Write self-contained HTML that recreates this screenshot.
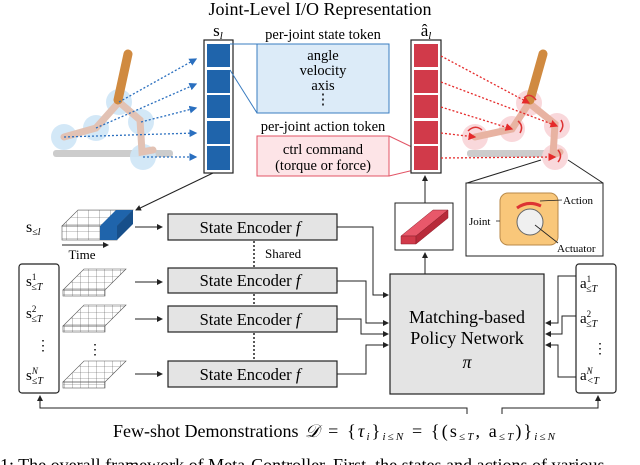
<!DOCTYPE html>
<html><head><meta charset="utf-8"><style>
body{margin:0;background:#fff}
svg{display:block;font-family:"Liberation Serif",serif}
</style></head><body>
<svg width="640" height="465" viewBox="0 0 640 465" xmlns="http://www.w3.org/2000/svg">
<defs>
<marker id="ak" markerWidth="6" markerHeight="6" refX="5" refY="3" orient="auto"><path d="M0,0 L6,3 L0,6z" fill="#222"/></marker>
<marker id="ab" markerWidth="6" markerHeight="6" refX="5" refY="3" orient="auto"><path d="M0,0 L6,3 L0,6z" fill="#2a6fbf"/></marker>
<marker id="ar" markerWidth="6" markerHeight="6" refX="5" refY="3" orient="auto"><path d="M0,0 L6,3 L0,6z" fill="#e52a2a"/></marker>
<pattern id="grid" width="8" height="6" patternUnits="userSpaceOnUse"><path d="M0,0H8M0,0V6" stroke="#555" stroke-width="0.6" fill="none"/></pattern>
<pattern id="grid2" width="11" height="7" patternUnits="userSpaceOnUse"><path d="M0,0H11M0,0V7" stroke="#555" stroke-width="0.6" fill="none"/></pattern>
</defs>
<text x="320" y="15" font-size="18" text-anchor="middle">Joint-Level I/O Representation</text>

<!-- left robot -->
<rect x="53" y="150" width="120" height="7" fill="#ccc" rx="3"/>
<g fill="#cfe6f7" opacity="0.9"><circle cx="64" cy="137" r="13"/><circle cx="96" cy="128" r="13"/><circle cx="119" cy="102" r="13"/><circle cx="141" cy="122" r="13"/><circle cx="143" cy="157" r="13"/></g>
<g stroke="#e2c2b4" stroke-width="7" stroke-linecap="round" fill="none"><path d="M64,137 L96,128 L119,102 L140,120 L142,152 L153,150"/></g>
<line x1="128" y1="54" x2="118" y2="100" stroke="#d08a40" stroke-width="9" stroke-linecap="round"/>
<g stroke="#2a6fbf" stroke-width="1.3" stroke-dasharray="2,2" marker-end="url(#ab)"><line x1="119" y1="102" x2="196" y2="59"/><line x1="96" y1="128" x2="196" y2="84"/><line x1="141" y1="122" x2="196" y2="108"/><line x1="64" y1="137" x2="196" y2="133"/><line x1="143" y1="157" x2="196" y2="157"/></g>

<!-- s_l column -->
<text x="218" y="36" font-size="17" text-anchor="middle">s<tspan font-size="11" font-style="italic" dy="3">l</tspan></text>
<rect x="204" y="40" width="29" height="133" fill="#fff" stroke="#222" stroke-width="1.2"/>
<g fill="#1f64ab"><rect x="207" y="44" width="23" height="23"/><rect x="207" y="70" width="23" height="23"/><rect x="207" y="95" width="23" height="23"/><rect x="207" y="121" width="23" height="23"/><rect x="207" y="146" width="23" height="24"/></g>
<line x1="230" y1="44" x2="257" y2="44" stroke="#3a7cc0"/><line x1="230" y1="70" x2="257" y2="113" stroke="#3a7cc0"/>
<text x="323" y="39" font-size="14.5" text-anchor="middle">per-joint state token</text>
<rect x="257" y="44" width="132" height="69" fill="#dcebf8" stroke="#3a7cc0"/>
<g font-size="14.5" text-anchor="middle"><text x="323" y="60">angle</text><text x="323" y="75">velocity</text><text x="323" y="90">axis</text><text x="323" y="104">⋮</text></g>
<text x="323" y="131" font-size="14.5" text-anchor="middle">per-joint action token</text>
<rect x="257" y="136" width="132" height="40" fill="#fde4e7" stroke="#e25566"/>
<g font-size="14.5" text-anchor="middle"><text x="323" y="154">ctrl command</text><text x="323" y="170">(torque or force)</text></g>
<line x1="389" y1="136" x2="414" y2="148" stroke="#e25566"/><line x1="389" y1="176" x2="414" y2="170" stroke="#e25566"/>

<!-- a_l column -->
<text x="426" y="36" font-size="17" text-anchor="middle">â<tspan font-size="11" font-style="italic" dy="3">l</tspan></text>
<rect x="411" y="40" width="30" height="133" fill="#fff" stroke="#222" stroke-width="1.2"/>
<g fill="#d13a4a"><rect x="414" y="44" width="24" height="23"/><rect x="414" y="70" width="24" height="23"/><rect x="414" y="95" width="24" height="23"/><rect x="414" y="121" width="24" height="23"/><rect x="414" y="146" width="24" height="24"/></g>

<!-- right robot -->
<rect x="467" y="150" width="95" height="7" fill="#ccc" rx="3"/>
<g fill="#f9d4d8" opacity="0.9"><circle cx="529" cy="103" r="13"/><circle cx="512" cy="129" r="13"/><circle cx="475" cy="137" r="13"/><circle cx="557" cy="126" r="13"/><circle cx="555" cy="157" r="13"/></g>
<g stroke="#e8b3a2" stroke-width="7" stroke-linecap="round" fill="none"><path d="M475,137 L512,129 L529,103 L555,124 L553,155 L560,152"/></g>
<line x1="543" y1="54" x2="530" y2="100" stroke="#d08a40" stroke-width="9" stroke-linecap="round"/>
<g stroke="#e52a2a" stroke-width="1.3" stroke-dasharray="2,2" marker-end="url(#ar)"><line x1="441" y1="56" x2="529" y2="103"/><line x1="441" y1="82" x2="557" y2="126"/><line x1="441" y1="107" x2="512" y2="129"/><line x1="441" y1="133" x2="475" y2="137"/><line x1="441" y1="158" x2="555" y2="157"/></g>
<g stroke="#d33" stroke-width="1.5" fill="none"><path d="M468,131 Q475,124 482,130"/><path d="M520,133 Q524,126 518,121"/><path d="M560,132 Q565,126 561,120"/><path d="M558,162 Q563,156 558,150"/><path d="M524,98 Q530,92 536,100"/></g>

<!-- joint zoom box -->
<line x1="467" y1="183" x2="541" y2="160" stroke="#222"/><line x1="603" y1="183" x2="568" y2="160" stroke="#222"/>
<rect x="466" y="183" width="137" height="73" fill="#fff" stroke="#222"/>
<rect x="500" y="193" width="58" height="52" rx="8" fill="#f9c77a" stroke="#b98a4a"/>
<circle cx="530" cy="222" r="13" fill="#f0f0f0" stroke="#666"/>
<path d="M517,208 Q528,200 541,206" stroke="#d33" stroke-width="3" fill="none"/>
<g font-size="11"><text x="563" y="204">Action</text><text x="469" y="225">Joint</text><text x="557" y="252">Actuator</text></g>
<g stroke="#222" stroke-width="0.8"><line x1="540" y1="201" x2="562" y2="200"/><line x1="496" y1="221" x2="500" y2="221"/><line x1="535" y1="225" x2="558" y2="243"/></g>

<!-- small red token box -->
<rect x="395" y="203" width="58" height="47" fill="#fff" stroke="#222"/>
<path d="M401,236 L433,210 L448,210 L416,236z" fill="#e8586a" stroke="#8a1f2a" stroke-width="0.5"/>
<path d="M401,236 L416,236 L416,244 L401,244z" fill="#d13a4a" stroke="#8a1f2a" stroke-width="0.5"/>
<path d="M416,236 L448,210 L448,218 L416,244z" fill="#b82a3a" stroke="#8a1f2a" stroke-width="0.5"/>
<line x1="425" y1="203" x2="425" y2="176" stroke="#222" marker-end="url(#ak)"/>
<line x1="425" y1="274" x2="425" y2="253" stroke="#222" marker-end="url(#ak)"/>

<!-- s<=l grid -->
<text x="26" y="232" font-size="16">s<tspan font-size="10" dy="3" font-style="italic">≤l</tspan></text>
<line x1="213" y1="173" x2="136" y2="210" stroke="#222" marker-end="url(#ak)"/>
<path d="M62,226 L117,226 L133,210 L78,210z" fill="url(#grid2)" stroke="#555" stroke-width="0.6"/>
<rect x="62" y="226" width="55" height="14" fill="url(#grid2)" stroke="#555" stroke-width="0.6"/>
<path d="M100,226 L117,226 L133,210 L116,210z" fill="#1f64ab"/>
<rect x="100" y="226" width="17" height="14" fill="#1f64ab"/>
<path d="M117,226 L133,210 L133,224 L117,240z" fill="#174f8a"/>
<line x1="62" y1="245" x2="108" y2="245" stroke="#222" marker-end="url(#ak)"/>
<text x="82" y="259" font-size="13" text-anchor="middle">Time</text>

<!-- demo grids -->
<g stroke="#555" stroke-width="0.6">
<path d="M63,290 L105,290 L126,269 L84,269z" fill="url(#grid)"/><rect x="63" y="290" width="42" height="6" fill="url(#grid)"/>
<path d="M63,326 L105,326 L126,305 L84,305z" fill="url(#grid)"/><rect x="63" y="326" width="42" height="6" fill="url(#grid)"/>
<path d="M63,382 L105,382 L126,361 L84,361z" fill="url(#grid)"/><rect x="63" y="382" width="42" height="6" fill="url(#grid)"/>
</g>
<text x="95" y="354" font-size="14" text-anchor="middle">⋮</text>

<!-- left demo box -->
<rect x="19" y="264" width="40" height="129" rx="3" fill="#fff" stroke="#222" stroke-width="1.2"/>
<g font-size="15"><text x="26" y="286">s<tspan font-size="9" dy="-6">1</tspan><tspan font-size="10" dx="-5" dy="10" font-style="italic">≤T</tspan></text>
<text x="26" y="318">s<tspan font-size="9" dy="-6">2</tspan><tspan font-size="10" dx="-5" dy="10" font-style="italic">≤T</tspan></text>
<text x="36" y="350" font-size="14">⋮</text>
<text x="26" y="380">s<tspan font-size="9" dy="-6" font-style="italic">N</tspan><tspan font-size="10" dx="-6" dy="10" font-style="italic">≤T</tspan></text></g>

<!-- encoders -->
<g fill="#e4e4e4" stroke="#222" stroke-width="1.2">
<rect x="168" y="214" width="169" height="26"/><rect x="168" y="268" width="169" height="25"/><rect x="168" y="306" width="169" height="26"/><rect x="168" y="361" width="169" height="26"/></g>
<g font-size="16.5" text-anchor="middle"><text x="250" y="233">State Encoder <tspan font-style="italic">f</tspan></text><text x="250" y="286">State Encoder <tspan font-style="italic">f</tspan></text><text x="250" y="325">State Encoder <tspan font-style="italic">f</tspan></text><text x="250" y="380">State Encoder <tspan font-style="italic">f</tspan></text></g>
<g stroke="#222" marker-end="url(#ak)"><line x1="135" y1="227" x2="162" y2="227"/><line x1="135" y1="282" x2="162" y2="282"/><line x1="135" y1="319" x2="162" y2="319"/><line x1="135" y1="374" x2="162" y2="374"/></g>
<g stroke="#222" stroke-width="1.5" stroke-dasharray="2,2"><line x1="254" y1="241" x2="254" y2="267"/><line x1="254" y1="294" x2="254" y2="305"/><line x1="254" y1="333" x2="254" y2="360"/></g>
<text x="265" y="258" font-size="13">Shared</text>

<!-- connectors to policy -->
<g stroke="#222" fill="none" marker-end="url(#ak)">
<path d="M337,227 H373 V295 H388"/><path d="M337,281 H366 V323 H388"/><path d="M337,319 H361 V334 H388"/><path d="M337,374 H366 V345 H388"/>
<path d="M576,276 H558 V323 H546"/><path d="M576,316 H562 V334 H546"/><path d="M576,377 H558 V345 H546"/>
</g>
<rect x="390" y="274" width="154" height="120" fill="#e4e4e4" stroke="#222" stroke-width="1.2"/>
<g font-size="18" text-anchor="middle"><text x="467" y="323">Matching-based</text><text x="467" y="344">Policy Network</text><text x="467" y="368" font-style="italic">π</text></g>

<!-- right demo box -->
<rect x="576" y="264" width="40" height="129" rx="3" fill="#fff" stroke="#222" stroke-width="1.2"/>
<g font-size="15"><text x="580" y="288">a<tspan font-size="9" dy="-6">1</tspan><tspan font-size="10" dx="-5" dy="10" font-style="italic">≤T</tspan></text>
<text x="580" y="323">a<tspan font-size="9" dy="-6">2</tspan><tspan font-size="10" dx="-5" dy="10" font-style="italic">≤T</tspan></text>
<text x="593" y="353" font-size="14">⋮</text>
<text x="580" y="380">a<tspan font-size="9" dy="-6" font-style="italic">N</tspan><tspan font-size="10" dx="-6" dy="10" font-style="italic">&lt;T</tspan></text></g>

<!-- bottom -->
<g stroke="#222" fill="none" marker-end="url(#ak)"><path d="M467,414 V408 H40 V396"/><path d="M502,414 V408 H598 V396"/></g>
<text x="113" y="437" font-size="18">Few-shot Demonstrations</text>
<text x="305" y="437" font-size="18" textLength="250" lengthAdjust="spacing"><tspan font-style="italic">𝒟</tspan> = {<tspan font-style="italic">τ<tspan font-size="11" dy="3">i</tspan></tspan><tspan dy="-3">}</tspan><tspan font-size="11" dy="3" font-style="italic">i≤N</tspan><tspan dy="-3"> = {(s</tspan><tspan font-size="11" dy="3" font-style="italic">≤T</tspan><tspan dy="-3">, a</tspan><tspan font-size="11" dy="3" font-style="italic">≤T</tspan><tspan dy="-3">)}</tspan><tspan font-size="11" dy="3" font-style="italic">i≤N</tspan></text>
<text x="0" y="471" font-size="18">1: The overall framework of Meta-Controller. First, the states and actions of various</text>
</svg>
</body></html>
